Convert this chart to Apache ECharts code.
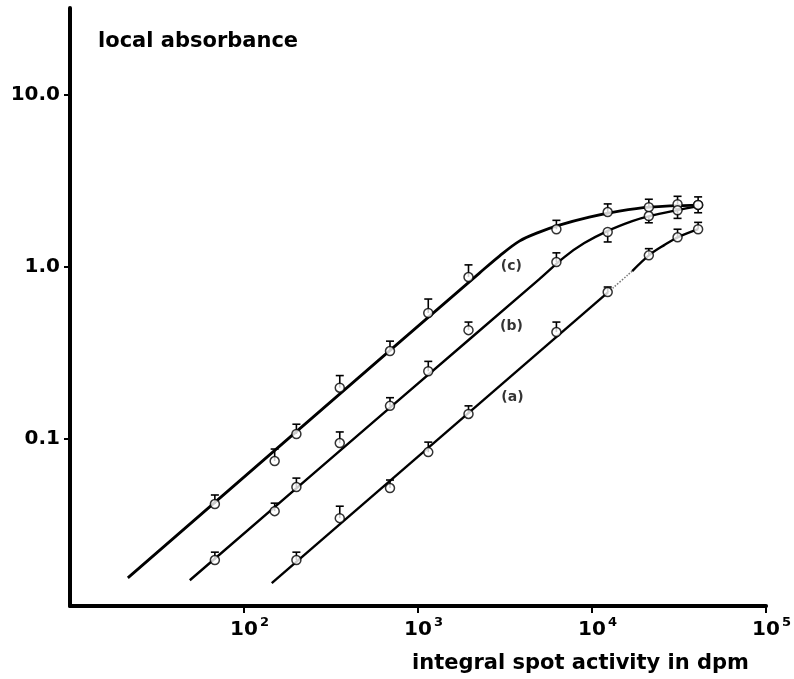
<!DOCTYPE html>
<html>
<head>
<meta charset="utf-8">
<script src="https://cdn.jsdelivr.net/npm/echarts@6/dist/echarts.min.js"></script>
<style>
  html, body { margin: 0; padding: 0; background: #fff; }
  #main { width: 794px; height: 679px; }
</style>
</head>
<body>
<div id="main"></div>
<script>
// spot activity (dpm) of the measured points
var dpm = [68, 150, 200, 355, 690, 1145, 1950, 6240, 12300, 21200, 31000, 40700];
var dpmA = [200, 355, 690, 1145, 1950, 6240, 12300, 21200, 31000, 40700];

// local absorbance, measured
var absC = [0.0419, 0.0745, 0.107, 0.199, 0.325, 0.541, 0.875, 1.66, 2.09, 2.23, 2.32, 2.30];
var absB = [0.0198, 0.0381, 0.0526, 0.0948, 0.156, 0.248, 0.430, 1.07, 1.60, 1.98, 2.14, 2.30];
var absA = [0.0198, 0.0347, 0.0519, 0.0840, 0.140, 0.419, 0.716, 1.17, 1.49, 1.66];

// error bar ends (upper / lower)
var hiC = [0.0473, 0.0875, 0.122, 0.234, 0.371, 0.652, 1.03, 1.87, 2.33, 2.48, 2.58, 2.56];
var loC = [0.0419, 0.0745, 0.107, 0.199, 0.325, 0.541, 0.875, 1.66, 2.09, 2.23, 2.32, 2.07];
var hiB = [0.0220, 0.0424, 0.0593, 0.110, 0.174, 0.283, 0.479, 1.21, 1.60, 1.98, 2.14, 2.30];
var loB = [0.0198, 0.0381, 0.0526, 0.0948, 0.156, 0.248, 0.430, 1.07, 1.40, 1.81, 1.92, 2.30];
var hiA = [0.0220, 0.0407, 0.0578, 0.096, 0.156, 0.479, 0.766, 1.28, 1.66, 1.82];
var loA = [0.0198, 0.0347, 0.0519, 0.0840, 0.140, 0.419, 0.716, 1.17, 1.49, 1.66];

// fitted curves [dpm, absorbance]
var fitC = [[21.5, 0.0156], [783, 0.366], [2254, 0.923], [2936, 1.159], [3823, 1.416], [4981, 1.598],
            [6489, 1.755], [9643, 1.953], [14330, 2.116], [21310, 2.233], [40720, 2.294]];
var fitB = [[48.8, 0.0151], [783, 0.170], [4981, 0.852], [6930, 1.143], [9027, 1.379], [12230, 1.619],
            [17020, 1.851], [21310, 1.979], [30850, 2.145], [40720, 2.263]];
var fitA1 = [[144.3, 0.01455], [12390, 0.716]];
var fitAgap = [[12390, 0.716], [17020, 0.948]];
var fitA2 = [[17020, 0.948], [21310, 1.174], [25980, 1.342], [31260, 1.494], [40720, 1.663]];

// curve names and where they sit
var curveNames = ['(c)', '(b)', '(a)'];
var curveNameX = [3440, 3440, 3490];
var curveNameY = [1.01, 0.454, 0.175];

var xTicks = [100, 1000, 10000, 100000];
var yTicks = [0.1, 1, 10];
var yTickText = { 0.1: '0.1', 1: '1.0', 10: '10.0' };

var FONT = 'DejaVu Sans';

function zip(xs, ys) {
  return xs.map(function (x, i) { return [x, ys[i]]; });
}
function bars(xs, ys, hi, lo) {
  return xs.map(function (x, i) { return [x, ys[i], hi[i], lo[i]]; });
}

function renderBar(params, api) {
  var p = api.coord([api.value(0), api.value(1)]);
  var h = api.coord([api.value(0), api.value(2)]);
  var l = api.coord([api.value(0), api.value(3)]);
  var st = { stroke: '#000', lineWidth: 1.6 };
  var kids = [];
  if (p[1] - h[1] > 1) {
    kids.push({ type: 'line', shape: { x1: p[0], y1: p[1], x2: h[0], y2: h[1] }, style: st });
    kids.push({ type: 'line', shape: { x1: h[0] - 4, y1: h[1], x2: h[0] + 4, y2: h[1] }, style: st });
  }
  if (l[1] - p[1] > 1) {
    kids.push({ type: 'line', shape: { x1: p[0], y1: p[1], x2: l[0], y2: l[1] }, style: st });
    kids.push({ type: 'line', shape: { x1: l[0] - 4, y1: l[1], x2: l[0] + 4, y2: l[1] }, style: st });
  }
  return { type: 'group', children: kids };
}

function fitLine(data, w, dashed) {
  return {
    type: 'line', data: data, smooth: 0.35, symbol: 'none', silent: true, z: 2,
    lineStyle: { color: dashed ? '#777' : '#000', width: w, type: dashed ? 'dotted' : 'solid' }
  };
}
function points(data) {
  return {
    type: 'scatter', data: data, symbol: 'circle', symbolSize: 9, z: 4,
    itemStyle: { color: '#fff', borderColor: '#000', borderWidth: 1.5 }
  };
}
function errBars(data) {
  return { type: 'custom', data: data, renderItem: renderBar, encode: { x: 0, y: 1 }, z: 3, silent: true };
}

var chart = echarts.init(document.getElementById('main'));

var option = {
  animation: false,
  backgroundColor: '#fff',
  grid: { left: 70, right: 27, top: 8, bottom: 73 },
  xAxis: {
    type: 'log', logBase: 10, min: 10, max: 100000,
    axisLine: { lineStyle: { color: '#000', width: 4 } },
    axisTick: { customValues: xTicks, length: 7, lineStyle: { color: '#000', width: 2 } },
    axisLabel: {
      customValues: xTicks, margin: 12, padding: [0, 0, 0, 11],
      formatter: function (v) {
        return '{b|10}{s|' + Math.round(Math.log10(v)) + '}';
      },
      rich: {
        b: { fontFamily: FONT, fontWeight: 'bold', fontSize: 20, color: '#000', lineHeight: 22, verticalAlign: 'bottom' },
        s: { fontFamily: FONT, fontWeight: 'bold', fontSize: 13, color: '#000', lineHeight: 13, verticalAlign: 'bottom', padding: [0, 0, 11, 2] }
      }
    },
    splitLine: { show: false }
  },
  yAxis: {
    type: 'log', logBase: 10, min: 0.0107, max: 32.1,
    axisLine: { lineStyle: { color: '#000', width: 4 } },
    axisTick: { customValues: yTicks, length: 6, lineStyle: { color: '#000', width: 2 } },
    axisLabel: {
      customValues: yTicks, margin: 10,
      fontFamily: FONT, fontWeight: 'bold', fontSize: 20, color: '#000',
      formatter: function (v) { return yTickText[v] || ''; }
    },
    splitLine: { show: false }
  },
  graphic: [
    { type: 'text', left: 98, top: 31,
      style: { text: 'local absorbance', fontFamily: FONT, fontWeight: 'bold', fontSize: 21, fill: '#000' } },
    { type: 'text', left: 412, top: 653,
      style: { text: 'integral spot activity in dpm', fontFamily: FONT, fontWeight: 'bold', fontSize: 21, fill: '#000' } }
  ],
  series: [
    fitLine(fitC, 2.8),
    fitLine(fitB, 2.4),
    fitLine(fitA1, 2.4),
    fitLine(fitAgap, 1.5, true),
    fitLine(fitA2, 2.4),
    errBars(bars(dpm, absC, hiC, loC)),
    errBars(bars(dpm, absB, hiB, loB)),
    errBars(bars(dpmA, absA, hiA, loA)),
    points(zip(dpm, absC)),
    points(zip(dpm, absB)),
    points(zip(dpmA, absA)),
    {
      type: 'scatter', symbolSize: 1, silent: true, z: 5,
      itemStyle: { color: 'rgba(0,0,0,0)' },
      data: curveNames.map(function (n, i) { return { name: n, value: [curveNameX[i], curveNameY[i]] }; }),
      label: {
        show: true, position: 'inside', formatter: '{b}',
        fontFamily: FONT, fontWeight: 'bold', fontSize: 14, color: '#000'
      }
    }
  ]
};

chart.setOption(option);
</script>
</body>
</html>
